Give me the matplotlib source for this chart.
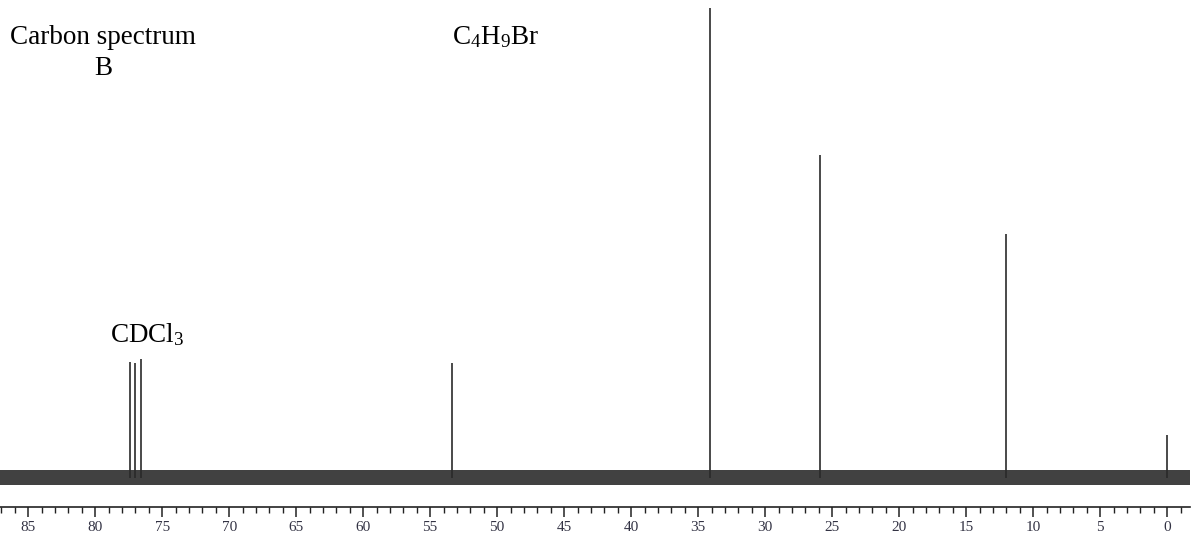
import matplotlib
matplotlib.use("Agg")
import matplotlib.pyplot as plt

# 13C spectrum of C4H9Br (2-bromobutane), peaks
shifts = [77.4, 77.0, 76.6, 53.4, 34.1, 25.9, 12.0, 0.0]
heights = [24.7, 24.5, 25.2, 24.5, 100.0, 68.7, 52.0, 9.1]
noise_level = 1.6

major_ticks = list(range(0, 90, 5))
minor_ticks = list(range(-1, 88))

plt.rcParams['font.family'] = ['Liberation Serif', 'DejaVu Serif']
plt.rcParams['mathtext.fontset'] = 'custom'
plt.rcParams['mathtext.rm'] = 'Liberation Serif'
plt.rcParams['mathtext.it'] = 'Liberation Serif:italic'

W, H = 1193, 535
fig = plt.figure(figsize=(W / 100, H / 100), dpi=100)
ax = fig.add_axes([0, (H - 507) / H, 1190 / W, 507 / H])

x_left, x_right = 87.1, -1.7
ax.set_xlim(x_left, x_right)
ax.set_ylim(-6.2, 101.7)

# baseline noise band
ax.fill_between([x_left, x_right], -noise_level, noise_level,
                color='#262626', linewidth=0, alpha=0.88)
ax.vlines(shifts, 0, heights, color='#2a2a2a', linewidth=1.2)

for s in ['top', 'left', 'right']:
    ax.spines[s].set_visible(False)
ax.spines['bottom'].set_linewidth(1.2)
ax.spines['bottom'].set_color('#222222')
ax.set_yticks([])
ax.set_xticks(major_ticks)
ax.set_xticks(minor_ticks, minor=True)
ax.tick_params(axis='x', which='major', direction='out', length=7, width=1.1,
               color='#222222', labelsize=11, labelcolor='#333344', pad=3)
ax.tick_params(axis='x', which='minor', direction='out', length=4, width=1.0,
               color='#222222')


def px(x, y):
    return x / W, 1 - y / H


fig.text(*px(10, 44), 'Carbon spectrum', fontsize=19.5, ha='left', va='baseline')
fig.text(*px(103, 75), 'B', fontsize=19.5, ha='center', va='baseline')
fig.text(*px(452, 44), r'C$_4$H$_9$Br', fontsize=19.5, ha='left', va='baseline')
fig.text(*px(110, 342), r'CDCl$_3$', fontsize=19.5, ha='left', va='baseline')

fig.savefig('out.png', dpi=100)
